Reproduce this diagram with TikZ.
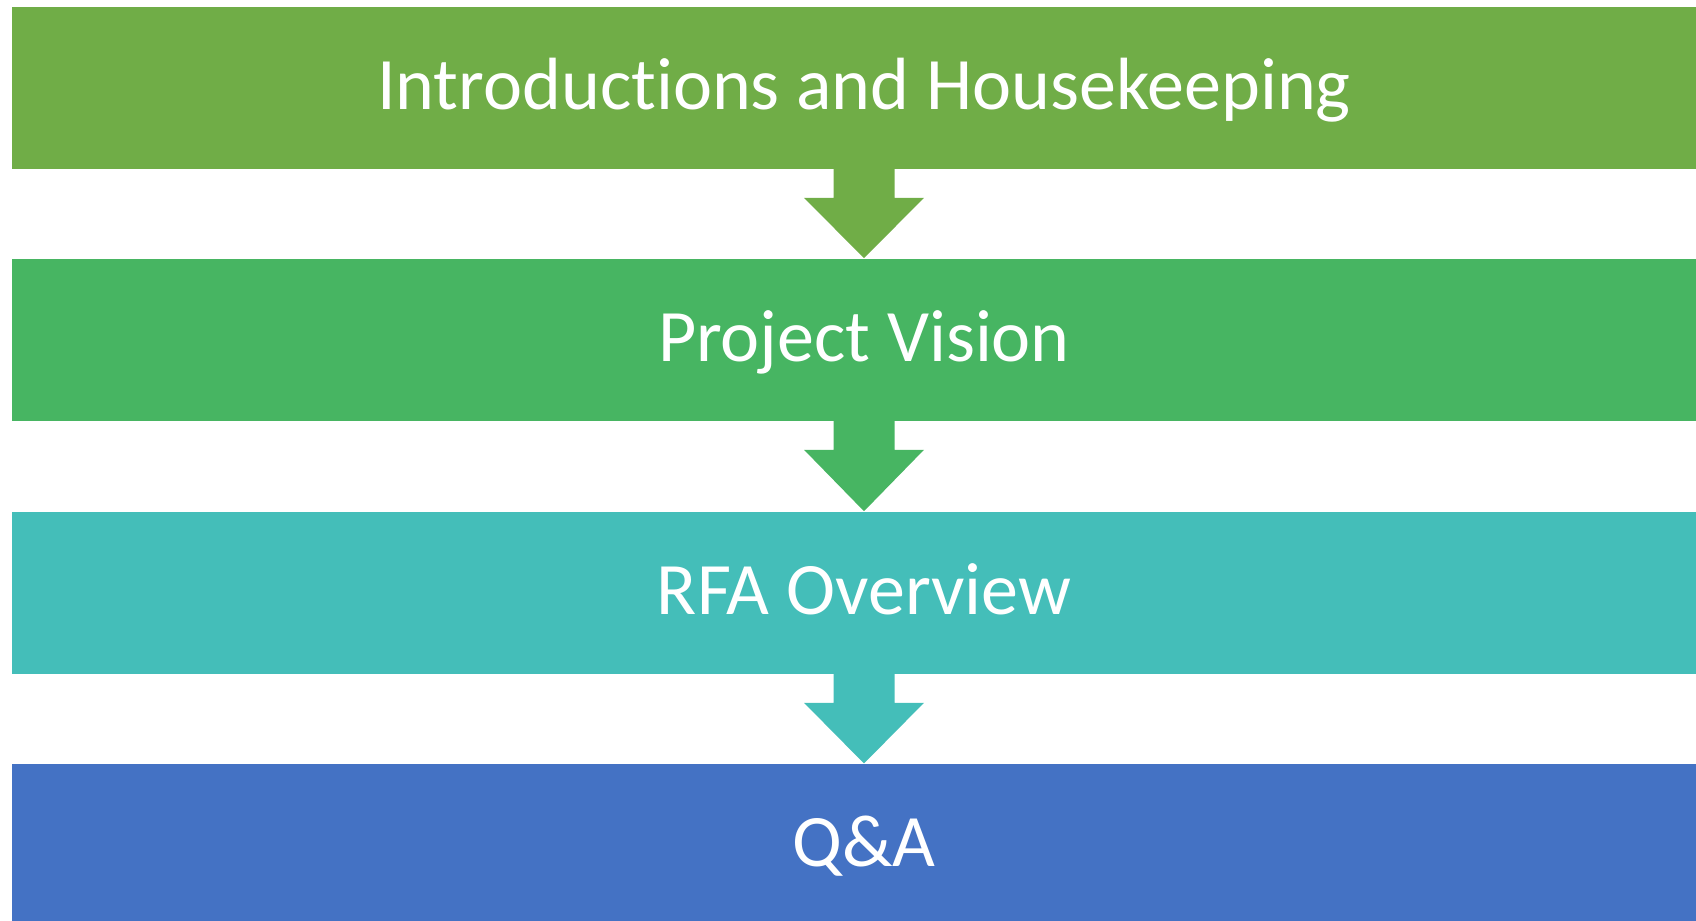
\documentclass[tikz,border=0pt]{standalone}
\usepackage{fontspec}
\setmainfont{Carlito}[Ligatures={NoCommon}]
\usetikzlibrary{calc}
\definecolor{cA}{HTML}{70AD47}
\definecolor{cB}{HTML}{47B562}
\definecolor{cC}{HTML}{44BEB9}
\definecolor{cD}{HTML}{4472C4}
\tikzset{
  stage/.style={fill=#1, draw=none, minimum width=1278pt, minimum height=121.875pt, inner sep=0pt,
    text=white, font=\fontsize{55.5pt}{60pt}\selectfont, text height=31.9pt, text depth=0pt, anchor=center}
}
\begin{document}
\begin{tikzpicture}[x=0.75pt,y=-0.75pt]
\useasboundingbox (0,0) rectangle (1696,921);
\clip (0,0) rectangle (1696,921);
\node[stage=cA] (b1) at (864,87.75) {Introductions and Housekeeping};
\node[stage=cB] (b2) at (864,339.75) {Project Vision};
\node[stage=cC] (b3) at (864,592.75) {RFA Overview};
\node[stage=cD] (b4) at (864,845.0) {Q\&A};
\foreach \a/\b/\c in {b1/b2/cA, b2/b3/cB, b3/b4/cC}{
  \fill[\c] ($(\a.south)+(-30.5,-1)$) -- ($(\a.south)+(30.5,-1)$) -- ($(\a.south)+(30.5,28.5)$)
    -- ($(\a.south)+(60,28.5)$) -- (\b.north) -- ($(\a.south)+(-60,28.5)$) -- ($(\a.south)+(-30.5,28.5)$) -- cycle;
}
\end{tikzpicture}
\end{document}
